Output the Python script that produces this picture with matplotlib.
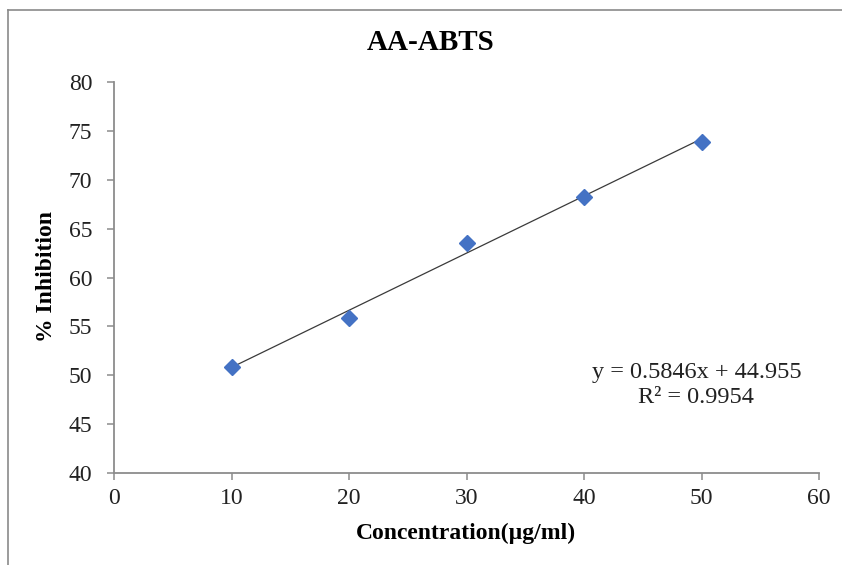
import numpy as np
import matplotlib
matplotlib.use("Agg")
import matplotlib.pyplot as plt
from matplotlib.lines import Line2D

plt.rcParams['font.family'] = ['Liberation Serif', 'DejaVu Serif']

conc = [10, 20, 30, 40, 50]
inhibition = [50.85, 55.85, 63.5, 68.25, 73.85]
slope, intercept = 0.5846, 44.955
r2 = 0.9954

W, H = 842, 565
fig = plt.figure(figsize=(W / 100, H / 100), dpi=100)
ax = fig.add_axes([114 / W, 1 - 473 / H, (819 - 114) / W, (473 - 82) / H])

axis_grey = "#8c8c8c"

# linear trendline over the measured range
xs = np.array([conc[0], conc[-1]])
ax.plot(xs, slope * xs + intercept, color="#3a3a3a", lw=0.9, zorder=2)
ax.plot(conc, inhibition, ls="none", marker="D", ms=8,
        color="#4472C4", mec="#4472C4", zorder=3)

ax.set_xlim(0, 60)
ax.set_ylim(40, 80)
ax.set_xticks(range(0, 61, 10))
ax.set_yticks(range(40, 81, 5))
for side in ("top", "right"):
    ax.spines[side].set_visible(False)
for side in ("left", "bottom"):
    ax.spines[side].set_color(axis_grey)
    ax.spines[side].set_linewidth(1.3)
ax.tick_params(axis="both", direction="out", length=5, width=1.1,
               color=axis_grey, labelsize=17, labelcolor="#222222")
ax.tick_params(axis="y", pad=10.5)
ax.tick_params(axis="x", pad=6)

ax.text(0.826, 0.225, f"y = {slope}x + {intercept}\nR² = {r2}",
        transform=ax.transAxes, ha="center", va="center",
        fontsize=17.5, color="#222222", linespacing=1.3)

fig.text(431 / W, 1 - 42 / H, "AA-ABTS", ha="center", va="center",
         fontsize=21, fontweight="bold")
fig.text(466 / W, 1 - 533 / H, "Concentration(µg/ml)", ha="center",
         va="center", fontsize=17, fontweight="bold")
fig.text(47 / W, 1 - 277 / H, "% Inhibition", ha="center", va="center",
         rotation=90, fontsize=17, fontweight="bold")

# chart-area border
fig.add_artist(Line2D([8 / W, 8 / W], [0, 1 - 10 / H], color="#8a8a8a", lw=1.2))
fig.add_artist(Line2D([8 / W, 1], [1 - 10 / H, 1 - 10 / H], color="#8a8a8a", lw=1.2))

fig.savefig("out.png", dpi=100)
